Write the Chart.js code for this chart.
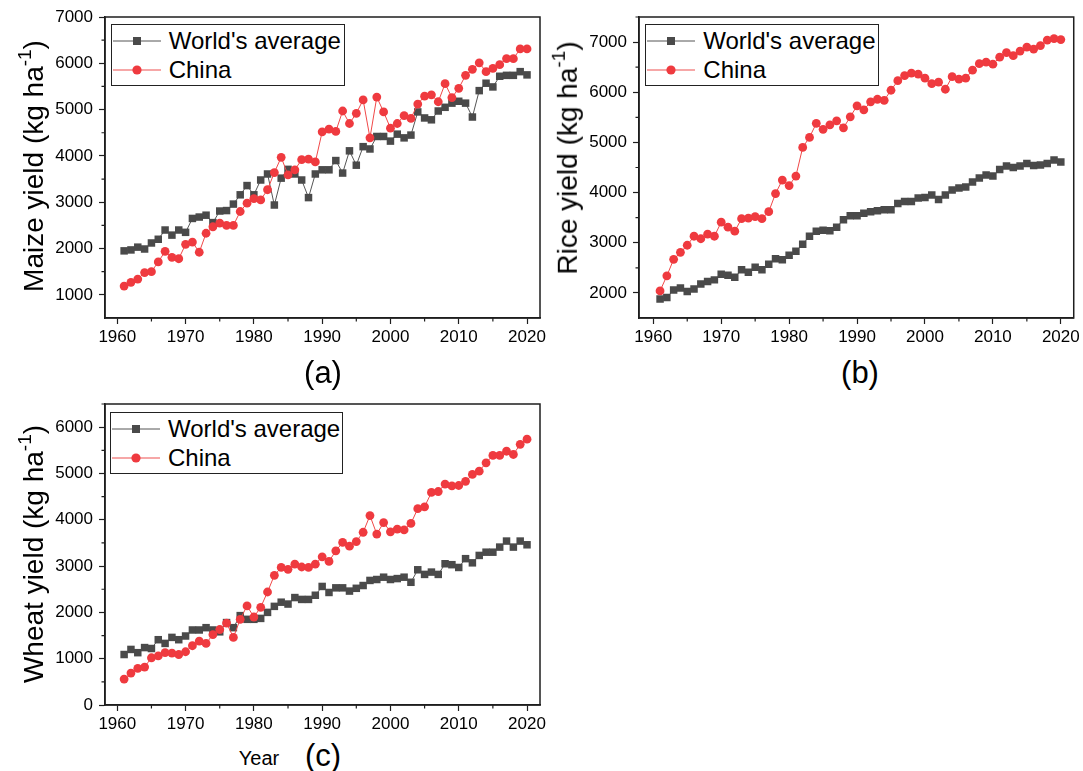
<!DOCTYPE html>
<html lang="en">
<head>
<meta charset="utf-8"/>
<title>Maize, rice and wheat yield: World vs China</title>
<script src="https://cdn.jsdelivr.net/npm/chart.js"></script>
<style type="text/css">
    body { margin: 0; background: #fff; font-family: "Liberation Sans", Arial, sans-serif; color: #000; }
    #page { position: relative; width: 1083px; height: 771px; overflow: hidden; }
    canvas { position: absolute; }
    .ytitle { position: absolute; font-size: 28px; white-space: nowrap; transform: translate(-50%, -50%) rotate(-90deg); }
    .ytitle sup { font-size: 19px; position: relative; top: -2px; }
    .tag { position: absolute; font-size: 31px; transform: translate(-50%, -50%); white-space: nowrap; }
    .year { position: absolute; font-size: 20px; transform: translate(-50%, -50%); }
    .legend { position: absolute; border: 1.5px solid #222; box-sizing: border-box; background: #fff; }
    .legend .row { position: absolute; left: 1px; height: 28px; display: flex; align-items: center; font-size: 24px; white-space: nowrap; }
    .legend svg { margin-right: 8px; }
</style>
</head>
<body>
<div id="page">
    <canvas id="maize" width="560" height="350" style="left:0px;top:0px"></canvas>
    <canvas id="rice" width="523" height="350" style="left:560px;top:0px"></canvas>
    <canvas id="wheat" width="560" height="350" style="left:0px;top:385px"></canvas>

    <div class="ytitle" style="left:33px;top:166px">Maize yield (kg ha<sup>-1</sup>)</div>
    <div class="ytitle" style="left:567px;top:158px">Rice yield (kg ha<sup>-1</sup>)</div>
    <div class="ytitle" style="left:33px;top:554px">Wheat yield (kg ha<sup>-1</sup>)</div>

    <div class="tag" style="left:323px;top:373px">(a)</div>
    <div class="tag" style="left:860px;top:373px">(b)</div>
    <div class="tag" style="left:323px;top:756px">(c)</div>
    <div class="year" style="left:259px;top:758px">Year</div>
</div>

<script>
// years on the x axis
var years = [1961, 1962, 1963, 1964, 1965, 1966, 1967, 1968, 1969, 1970,
             1971, 1972, 1973, 1974, 1975, 1976, 1977, 1978, 1979, 1980,
             1981, 1982, 1983, 1984, 1985, 1986, 1987, 1988, 1989, 1990,
             1991, 1992, 1993, 1994, 1995, 1996, 1997, 1998, 1999, 2000,
             2001, 2002, 2003, 2004, 2005, 2006, 2007, 2008, 2009, 2010,
             2011, 2012, 2013, 2014, 2015, 2016, 2017, 2018, 2019, 2020];

var seriesNames = ["World's average", "China"];

// (a) maize, kg/ha
var maizeWorld = [1950, 1970, 2030, 1990, 2120, 2200, 2400, 2290, 2400, 2350,
                  2650, 2680, 2720, 2560, 2810, 2820, 2960, 3160, 3360, 3160,
                  3480, 3610, 2940, 3520, 3710, 3610, 3480, 3100, 3610, 3700,
                  3700, 3900, 3630, 4110, 3800, 4200, 4150, 4420, 4420, 4320,
                  4470, 4390, 4450, 4950, 4820, 4780, 4970, 5050, 5140, 5180,
                  5140, 4840, 5410, 5570, 5490, 5720, 5740, 5740, 5820, 5750];
var maizeChina = [1190, 1270, 1340, 1480, 1500, 1710, 1940, 1810, 1780, 2090,
                  2140, 1920, 2330, 2470, 2550, 2500, 2500, 2800, 2980, 3080,
                  3050, 3270, 3640, 3970, 3590, 3700, 3920, 3930, 3870, 4520,
                  4580, 4530, 4970, 4700, 4920, 5210, 4390, 5270, 4950, 4600,
                  4700, 4870, 4810, 5120, 5290, 5320, 5170, 5560, 5260, 5460,
                  5740, 5870, 6010, 5820, 5890, 5970, 6100, 6100, 6310, 6310];

// (b) rice, kg/ha
var riceWorld = [1880, 1910, 2060, 2100, 2030, 2080, 2180, 2230, 2260, 2370,
                 2350, 2310, 2460, 2410, 2510, 2460, 2570, 2680, 2660, 2750,
                 2830, 2970, 3130, 3230, 3250, 3240, 3310, 3460, 3540, 3540,
                 3590, 3620, 3640, 3660, 3660, 3780, 3820, 3820, 3890, 3900,
                 3950, 3860, 3950, 4050, 4090, 4110, 4210, 4290, 4350, 4330,
                 4460, 4530, 4500, 4530, 4580, 4540, 4550, 4580, 4650, 4610];
var riceChina = [2040, 2340, 2670, 2810, 2950, 3130, 3080, 3170, 3130, 3410,
                 3310, 3230, 3480, 3490, 3520, 3480, 3620, 3980, 4250, 4140,
                 4330, 4900, 5100, 5380, 5260, 5350, 5430, 5290, 5510, 5730,
                 5650, 5810, 5860, 5840, 6040, 6230, 6330, 6380, 6360, 6280,
                 6170, 6200, 6060, 6310, 6260, 6280, 6440, 6570, 6600, 6560,
                 6700, 6790, 6730, 6820, 6900, 6860, 6930, 7040, 7070, 7050];

// (c) wheat, kg/ha
var wheatWorld = [1090, 1200, 1130, 1240, 1220, 1410, 1330, 1460, 1410, 1490,
                  1620, 1620, 1670, 1620, 1580, 1780, 1670, 1930, 1850, 1850,
                  1870, 2000, 2130, 2220, 2180, 2320, 2280, 2280, 2370, 2560,
                  2430, 2530, 2530, 2460, 2520, 2580, 2690, 2710, 2760, 2710,
                  2730, 2760, 2650, 2920, 2820, 2870, 2820, 3050, 3030, 2970,
                  3160, 3070, 3230, 3300, 3300, 3410, 3540, 3410, 3540, 3460];
var wheatChina = [560, 690, 790, 820, 1020, 1060, 1130, 1120, 1090, 1150,
                  1280, 1380, 1330, 1520, 1630, 1770, 1460, 1850, 2140, 1900,
                  2110, 2440, 2800, 2970, 2930, 3040, 2980, 2970, 3040, 3200,
                  3100, 3330, 3510, 3430, 3530, 3730, 4090, 3690, 3940, 3740,
                  3800, 3780, 3920, 4240, 4280, 4590, 4610, 4770, 4730, 4740,
                  4830, 4980, 5050, 5230, 5390, 5390, 5480, 5410, 5630, 5740];

// tick values
var xTicks = [1960, 1970, 1980, 1990, 2000, 2010, 2020];
var xMinor = [1965, 1975, 1985, 1995, 2005, 2015];
var maizeTicks = [1000, 2000, 3000, 4000, 5000, 6000, 7000];
var maizeMinor = [1500, 2500, 3500, 4500, 5500, 6500];
var riceTicks = [2000, 3000, 4000, 5000, 6000, 7000];
var riceMinor = [2500, 3500, 4500, 5500, 6500, 7500];
var wheatTicks = [0, 1000, 2000, 3000, 4000, 5000, 6000];
var wheatMinor = [500, 1500, 2500, 3500, 4500, 5500, 6500];

var FONT = "'Liberation Sans', Arial, sans-serif";
var GREY = '#4a4a4a';
var RED = '#ef3a3f';
var AXIS = '#1e1e1e';

Chart.defaults.font.family = FONT;
Chart.defaults.color = '#000';

// box around the plot + short minor ticks
var framePlugin = {
    id: 'frame',
    afterDraw: function(chart, args, opts) {
        var ctx = chart.ctx, a = chart.chartArea;
        var xs = chart.scales.x, ys = chart.scales.y;
        ctx.save();
        ctx.strokeStyle = AXIS;
        ctx.lineWidth = 1.5;
        ctx.strokeRect(a.left, a.top, a.right - a.left, a.bottom - a.top);
        ctx.lineWidth = 1.2;
        ctx.beginPath();
        opts.xMinor.forEach(function(v) {
            var px = xs.getPixelForValue(v);
            ctx.moveTo(px, a.bottom);
            ctx.lineTo(px, a.bottom + 3.5);
        });
        opts.yMinor.forEach(function(v) {
            var py = ys.getPixelForValue(v);
            ctx.moveTo(a.left, py);
            ctx.lineTo(a.left - 3.5, py);
        });
        ctx.stroke();
        ctx.restore();
    }
};

function points(vals) {
    return years.map(function(y, i) { return {x: y, y: vals[i]}; });
}

function makePanel(id, world, china, p) {
    var config = {
        type: 'line',
        data: {
            datasets: [{
                label: seriesNames[0],
                data: points(world),
                borderColor: '#555555',
                borderWidth: 1,
                pointStyle: 'rect',
                pointRadius: 5.3,
                pointBackgroundColor: GREY,
                pointBorderWidth: 0,
                order: 1
            }, {
                label: seriesNames[1],
                data: points(china),
                borderColor: '#f04848',
                borderWidth: 1,
                pointStyle: 'circle',
                pointRadius: 4.4,
                pointBackgroundColor: RED,
                pointBorderWidth: 0,
                order: 0
            }]
        },
        options: {
            responsive: false,
            animation: false,
            layout: { padding: { top: p.padTop, right: p.padRight, left: 0, bottom: 0 } },
            plugins: {
                legend: { display: false },
                tooltip: { enabled: false },
                frame: { xMinor: xMinor, yMinor: p.yMinor }
            },
            scales: {
                x: {
                    type: 'linear',
                    min: p.xMin,
                    max: p.xMax,
                    afterBuildTicks: function(s) { s.ticks = xTicks.map(function(v) { return {value: v}; }); },
                    afterFit: function(s) { s.height = p.xAxisH; },
                    grid: { drawOnChartArea: false, tickLength: 6, tickWidth: 1.2, tickColor: AXIS },
                    border: { color: AXIS, width: 1.5 },
                    ticks: { font: { size: 17 }, color: '#000', padding: 3, maxRotation: 0, autoSkip: false,
                             callback: function(v) { return String(v); } }
                },
                y: {
                    type: 'linear',
                    min: p.yMin,
                    max: p.yMax,
                    afterBuildTicks: function(s) { s.ticks = p.yTicks.map(function(v) { return {value: v}; }); },
                    afterFit: function(s) { s.width = p.yAxisW; },
                    grid: { drawOnChartArea: false, tickLength: 6, tickWidth: 1.2, tickColor: AXIS },
                    border: { color: AXIS, width: 1.5 },
                    ticks: { font: { size: 17 }, color: '#000', padding: 6, autoSkip: false,
                             callback: function(v) { return String(v); } }
                }
            }
        },
        plugins: [framePlugin]
    };
    return new Chart(document.getElementById(id), config);
}

// html legend drawn inside each plot box
function addLegend(left, top, width, height) {
    var box = document.createElement('div');
    box.className = 'legend';
    box.style.left = left + 'px';
    box.style.top = top + 'px';
    box.style.width = width + 'px';
    box.style.height = height + 'px';
    var worldSvg = '<svg width="48" height="14"><line x1="0" y1="7" x2="48" y2="7" stroke="#555" stroke-width="1"/>' +
                   '<rect x="20" y="3" width="8" height="8" fill="' + GREY + '"/></svg>';
    var chinaSvg = '<svg width="48" height="14"><line x1="0" y1="7" x2="48" y2="7" stroke="#f38a8a" stroke-width="1.5"/>' +
                   '<circle cx="24" cy="7" r="4.6" fill="' + RED + '"/></svg>';
    box.innerHTML = '<div class="row" style="top:2px">' + worldSvg + '<span>' + seriesNames[0] + '</span></div>' +
                    '<div class="row" style="top:31px">' + chinaSvg + '<span>' + seriesNames[1] + '</span></div>';
    document.getElementById('page').appendChild(box);
}

makePanel('maize', maizeWorld, maizeChina, {
    xMin: 1958.2, xMax: 2021.9, yMin: 500, yMax: 7000,
    yTicks: maizeTicks, yMinor: maizeMinor,
    padTop: 17, padRight: 20, yAxisW: 105, xAxisH: 32
});
makePanel('rice', riceWorld, riceChina, {
    xMin: 1957.9, xMax: 2021.9, yMin: 1500, yMax: 7500,
    yTicks: riceTicks, yMinor: riceMinor,
    padTop: 17, padRight: 9, yAxisW: 79, xAxisH: 32
});
makePanel('wheat', wheatWorld, wheatChina, {
    xMin: 1958.2, xMax: 2021.9, yMin: 0, yMax: 6500,
    yTicks: wheatTicks, yMinor: wheatMinor,
    padTop: 19, padRight: 20, yAxisW: 105, xAxisH: 30
});

addLegend(110.7, 24.3, 234.3, 61.4);
addLegend(645.3, 24, 234, 62);
addLegend(110, 412.3, 233.3, 61.7);
</script>
</body>
</html>
